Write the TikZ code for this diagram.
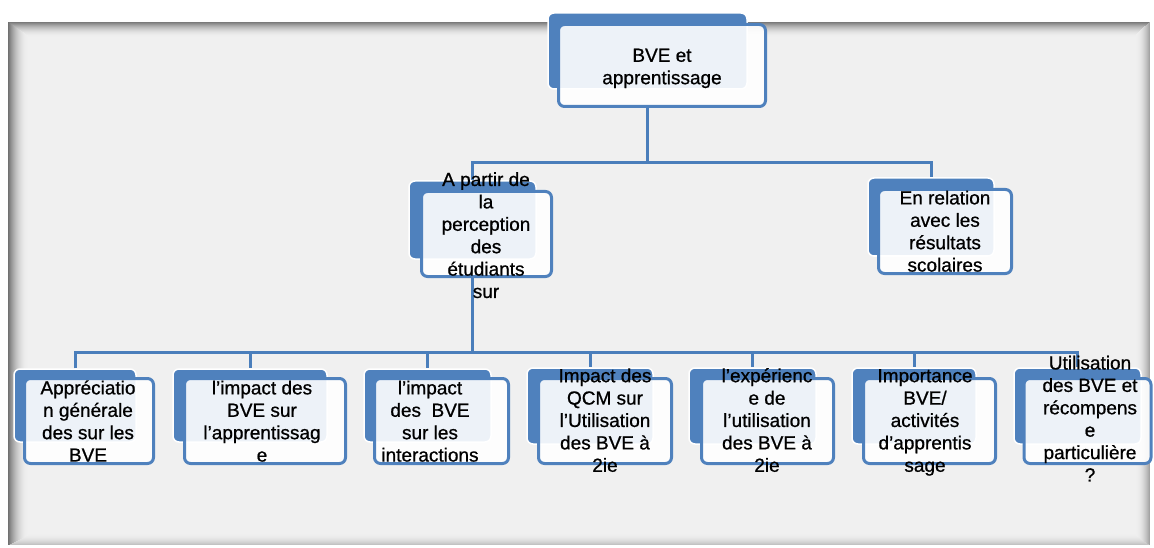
\documentclass[tikz,border=0pt]{standalone}
\usepackage{fontspec}
\setmainfont{Liberation Sans}[FakeBold=0.8]
\definecolor{boxblue}{HTML}{4F81BD}
\definecolor{linkblue}{HTML}{4A7EBB}
\definecolor{panelgray}{HTML}{F0F0F0}
\tikzset{
  backbox/.style={rounded corners=6pt, fill=boxblue, draw=white, line width=1.5pt, inner sep=0pt},
  frontbox/.style={rounded corners=6pt, fill=white, fill opacity=0.9, draw=boxblue, draw opacity=1, line width=3pt, inner sep=0pt},
  boxtext/.style={align=center, inner sep=0pt, font=\fontsize{19}{22.4}\selectfont, text=black},
  conn/.style={draw=linkblue, line width=3pt}
}
\newcommand\smartbox[7]{%
  \node[backbox, minimum width=#3pt, minimum height=#4pt] (#1-back) at #2 {};
  \node[frontbox, minimum width=#6pt, minimum height=#7pt] (#1-front) at #5 {};
}
\newcommand\tline[1]{\strut#1}
\begin{document}
\begin{tikzpicture}[x=1pt,y=-1pt]
\useasboundingbox (0,0) rectangle (1154,548);
% panel with soft inner shadow, built from thin strips
\fill[panelgray] (8,22) rectangle (1150,545);
\foreach \i in {0,...,14}{
  \pgfmathsetmacro\sh{6+46*(1-\i/15)^2}
  \fill[black!\sh] (8,22+\i) rectangle (1150,23.2+\i);
}
\foreach \i in {0,...,10}{
  \pgfmathsetmacro\sh{6+18*(1-\i/11)^2}
  \fill[black!\sh] (8,544+-\i) rectangle (1150,545.2-\i);
}
\foreach \i in {0,...,19}{
  \pgfmathsetmacro\sh{6+50*(1-\i/20)^2}
  \fill[black!\sh] (8+\i,22+0.7*\i) rectangle (9.2+\i,545-0.5*\i);
}
\foreach \i in {0,...,13}{
  \pgfmathsetmacro\sh{6+30*(1-\i/14)^2}
  \fill[black!\sh] (1149-\i,22+0.9*\i) rectangle (1150.2-\i,545-0.7*\i);
}
\draw[white, line width=1pt] (8,21.5) -- (1150,21.5);
% boxes
\smartbox{top}{(647.5,51)}{199}{76}{(662,65.5)}{207}{82}
\smartbox{left}{(472.5,220)}{127}{78}{(486.5,234)}{130}{85}
\smartbox{right}{(931,217)}{126}{78}{(945,231.5)}{133}{84}
\smartbox{b1}{(75,405.5)}{122}{73}{(89,421)}{129}{85}
\smartbox{b2}{(250,405.5)}{154}{73}{(265,421)}{161}{85}
\smartbox{b3}{(427.5,405.5)}{127}{73}{(441.5,421)}{134}{85}
\smartbox{b4}{(590,406)}{126}{76}{(605,421)}{133}{85}
\smartbox{b5}{(752.5,406)}{127}{76}{(767.5,421)}{132}{85}
\smartbox{b6}{(914,406)}{124}{76}{(929.5,421)}{132}{85}
\smartbox{b7}{(1077.5,406)}{127}{76}{(1087.5,421)}{127}{85}
% connectors
\coordinate (busA) at (0,163);
\coordinate (busB) at (0,352);
\draw[conn] (top-back.center |- top-front.south) -- (top-back.center |- busA);
\draw[conn] (left-back.north) -- (left-back.north |- busA) -- (right-back.north |- busA) -- (right-back.north);
\draw[conn] (left-back.center |- left-front.south) -- (left-back.center |- busB);
\draw[conn] (b1-back.north) -- (b1-back.north |- busB) -- (b7-back.north |- busB) -- (b7-back.north);
\foreach \k in {2,...,6}{\draw[conn] (b\k-back.north |- busB) -- (b\k-back.north);}
% texts
\node[boxtext] (t-top) at (662,68.5) {\tline{BVE et}\\\tline{apprentissage}};
\node[boxtext] (t-left) at (486,237.5) {\tline{A partir de}\\\tline{la}\\\tline{perception}\\\tline{des}\\\tline{étudiants}\\\tline{sur}};
\node[boxtext] (t-right) at (945,233.5) {\tline{En relation}\\\tline{avec les}\\\tline{résultats}\\\tline{scolaires}};
\node[boxtext] (t-b1) at (88,423.5) {\tline{Appréciatio}\\\tline{n générale}\\\tline{des sur les}\\\tline{BVE}};
\node[boxtext] (t-b2) at (262,423.5) {\tline{l’impact des}\\\tline{BVE sur}\\\tline{l’apprentissag}\\\tline{e}};
\node[boxtext] (t-b3) at (430,423.5) {\tline{l’impact}\\\tline{des\ \ BVE}\\\tline{sur les}\\\tline{interactions}};
\node[boxtext] (t-b4) at (605,422.5) {\tline{Impact des}\\\tline{QCM sur}\\\tline{l’Utilisation}\\\tline{des BVE à}\\\tline{2ie}};
\node[boxtext] (t-b5) at (767,422.5) {\tline{l’expérienc}\\\tline{e de}\\\tline{l’utilisation}\\\tline{des BVE à}\\\tline{2ie}};
\node[boxtext] (t-b6) at (925,422.5) {\tline{Importance}\\\tline{BVE/}\\\tline{activités}\\\tline{d’apprentis}\\\tline{sage}};
\node[boxtext] (t-b7) at (1090,421) {\tline{Utilisation}\\\tline{des BVE et}\\\tline{récompens}\\\tline{e}\\\tline{particulière}\\\tline{?}};
\end{tikzpicture}
\end{document}
